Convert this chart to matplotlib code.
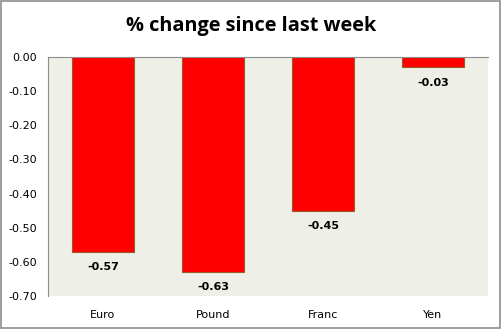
import matplotlib.pyplot as plt
from matplotlib.patches import Rectangle

# weekly currency moves
currencies = ['Euro', 'Pound', 'Franc', 'Yen']
changes = [-0.57, -0.63, -0.45, -0.03]
yticks = [0.0, -0.1, -0.2, -0.3, -0.4, -0.5, -0.6, -0.7]

fig = plt.figure(figsize=(5.02, 3.29), dpi=100)
ax = fig.add_axes([48 / 502, 1 - 296 / 329, 440 / 502, 239 / 329])
ax.set_facecolor('#eef0e8')

x = range(len(currencies))
ax.bar(x, changes, width=0.57, color='#ff0000', edgecolor='#9b5a2a', linewidth=0.8)

for i, v in enumerate(changes):
    ax.annotate(f'{v:.2f}', (i, v), xytext=(0, -11), textcoords='offset points',
                ha='center', va='center', fontsize=8, fontweight='bold', color='black')

ax.set_xlim(-0.5, len(currencies) - 0.5)
ax.set_ylim(-0.7, 0)
ax.set_yticks(yticks)
ax.set_yticklabels([f'{t:.2f}' for t in yticks], fontsize=8)
ax.set_xticks(list(x))
ax.set_xticklabels(currencies, fontsize=8)
ax.tick_params(axis='both', length=0, pad=8)
ax.tick_params(axis='x', pad=10)

for side in ['right', 'bottom']:
    ax.spines[side].set_visible(False)
ax.spines['left'].set_color('#8c8c8c')
ax.spines['top'].set_color('#8c8c8c')
ax.spines['left'].set_linewidth(0.8)
ax.spines['top'].set_linewidth(0.8)

fig.text(0.5, 1 - 26 / 329, '% change since last week', ha='center', va='center',
         fontsize=14.3, fontweight='bold', family='Open Sans')

# grey frame around the whole chart
fig.patches.append(Rectangle((0.002, 0.003), 0.995, 0.994, transform=fig.transFigure,
                             fill=False, edgecolor='#8c8c8c', linewidth=1.2))

fig.savefig('out.png', dpi=100)
